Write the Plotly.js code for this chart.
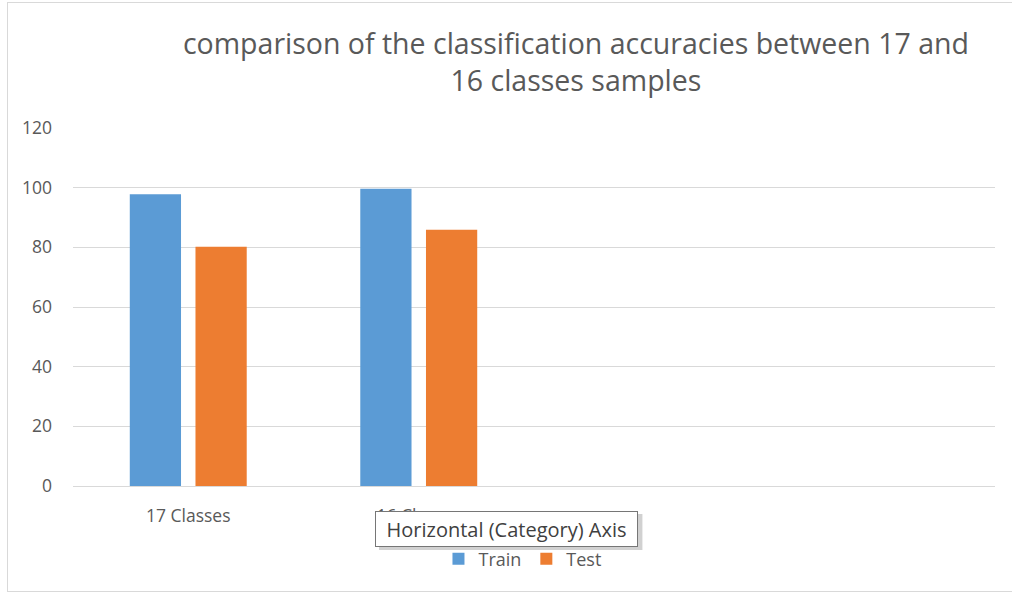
<!DOCTYPE html>
<html>
<head>
<meta charset="utf-8">
<script src="https://cdn.plot.ly/plotly-3.0.1.min.js"></script>
<style>
  html, body { margin: 0; padding: 0; background: #ffffff; }
  #frame { position: absolute; left: 7px; top: 2px; width: 1020px; height: 590px; border: 1px solid #d9d9d9; box-sizing: border-box; }
  #chart { position: absolute; left: 0; top: 0; width: 1012px; height: 596px; }
</style>
</head>
<body>
<div id="frame"></div>
<div id="chart"></div>
<script>
// ---- data ----
const categories = ["17 Classes", "16 Classes"];
const trainValues = [97.8, 99.6];
const testValues = [80.2, 85.9];
const seriesNames = ["Train", "Test"];
const yTicks = [0, 20, 40, 60, 80, 100, 120];
const slotCount = 4; // the category axis has 4 slots, only the first two hold data

const xIdx = categories.map((_, i) => i);
const font = "Open Sans, Liberation Sans, sans-serif";
const gray = "#595959";

const traces = [
  { type: "bar", name: seriesNames[0], x: xIdx, y: trainValues,
    marker: { color: "#5B9BD5" }, hoverinfo: "y+name" },
  { type: "bar", name: seriesNames[1], x: xIdx, y: testValues,
    marker: { color: "#ED7D31" }, hoverinfo: "y+name" }
];

const layout = {
  width: 1012, height: 596,
  margin: { l: 73, r: 17, t: 128, b: 110 },
  paper_bgcolor: "rgba(0,0,0,0)",
  plot_bgcolor: "rgba(0,0,0,0)",
  barmode: "group",
  bargap: 0.43,
  bargroupgap: 0.22,
  title: {
    text: "comparison of the classification accuracies between 17 and<br>16 classes samples",
    font: { family: font, size: 28.5, color: gray },
    x: 0.5455, xanchor: "center", xref: "paper",
    y: 0.909, yanchor: "middle"
  },
  xaxis: {
    range: [-0.5, slotCount - 0.5],
    tickvals: xIdx, ticktext: categories,
    showgrid: false, zeroline: false,
    showline: true, linecolor: "#d9d9d9", linewidth: 1,
    ticks: "", ticklabelstandoff: 14,
    tickfont: { family: font, size: 17.5, color: gray },
    fixedrange: true
  },
  yaxis: {
    range: [0, 120], tickvals: yTicks,
    showgrid: true, gridcolor: "#d9d9d9", gridwidth: 1,
    zeroline: false, showline: false,
    ticks: "", ticklabelstandoff: 20,
    tickfont: { family: font, size: 17.5, color: gray },
    fixedrange: true
  },
  showlegend: true,
  legend: {
    orientation: "h", x: 0.4875, xanchor: "center",
    y: -0.204, yanchor: "middle",
    font: { family: font, size: 18, color: gray },
    itemwidth: 30, traceorder: "normal",
    bgcolor: "rgba(0,0,0,0)"
  },
  shapes: [
    { type: "rect", xref: "paper", yref: "paper", layer: "above",
      x0: 0.3319, x1: 0.6176, y0: -0.1788, y1: -0.0782,
      fillcolor: "rgba(0,0,0,0.18)", line: { width: 0 } }
  ],
  annotations: [
    { text: "Horizontal (Category) Axis", xref: "paper", yref: "paper",
      x: 0.4702, y: -0.120, xanchor: "center", yanchor: "middle",
      showarrow: false, width: 257, height: 30, borderpad: 2,
      bgcolor: "#ffffff", bordercolor: "#767676", borderwidth: 1,
      font: { family: font, size: 20, color: "#404040" } }
  ]
};

Plotly.newPlot("chart", traces, layout, { displayModeBar: false, staticPlot: true });
</script>
</body>
</html>
